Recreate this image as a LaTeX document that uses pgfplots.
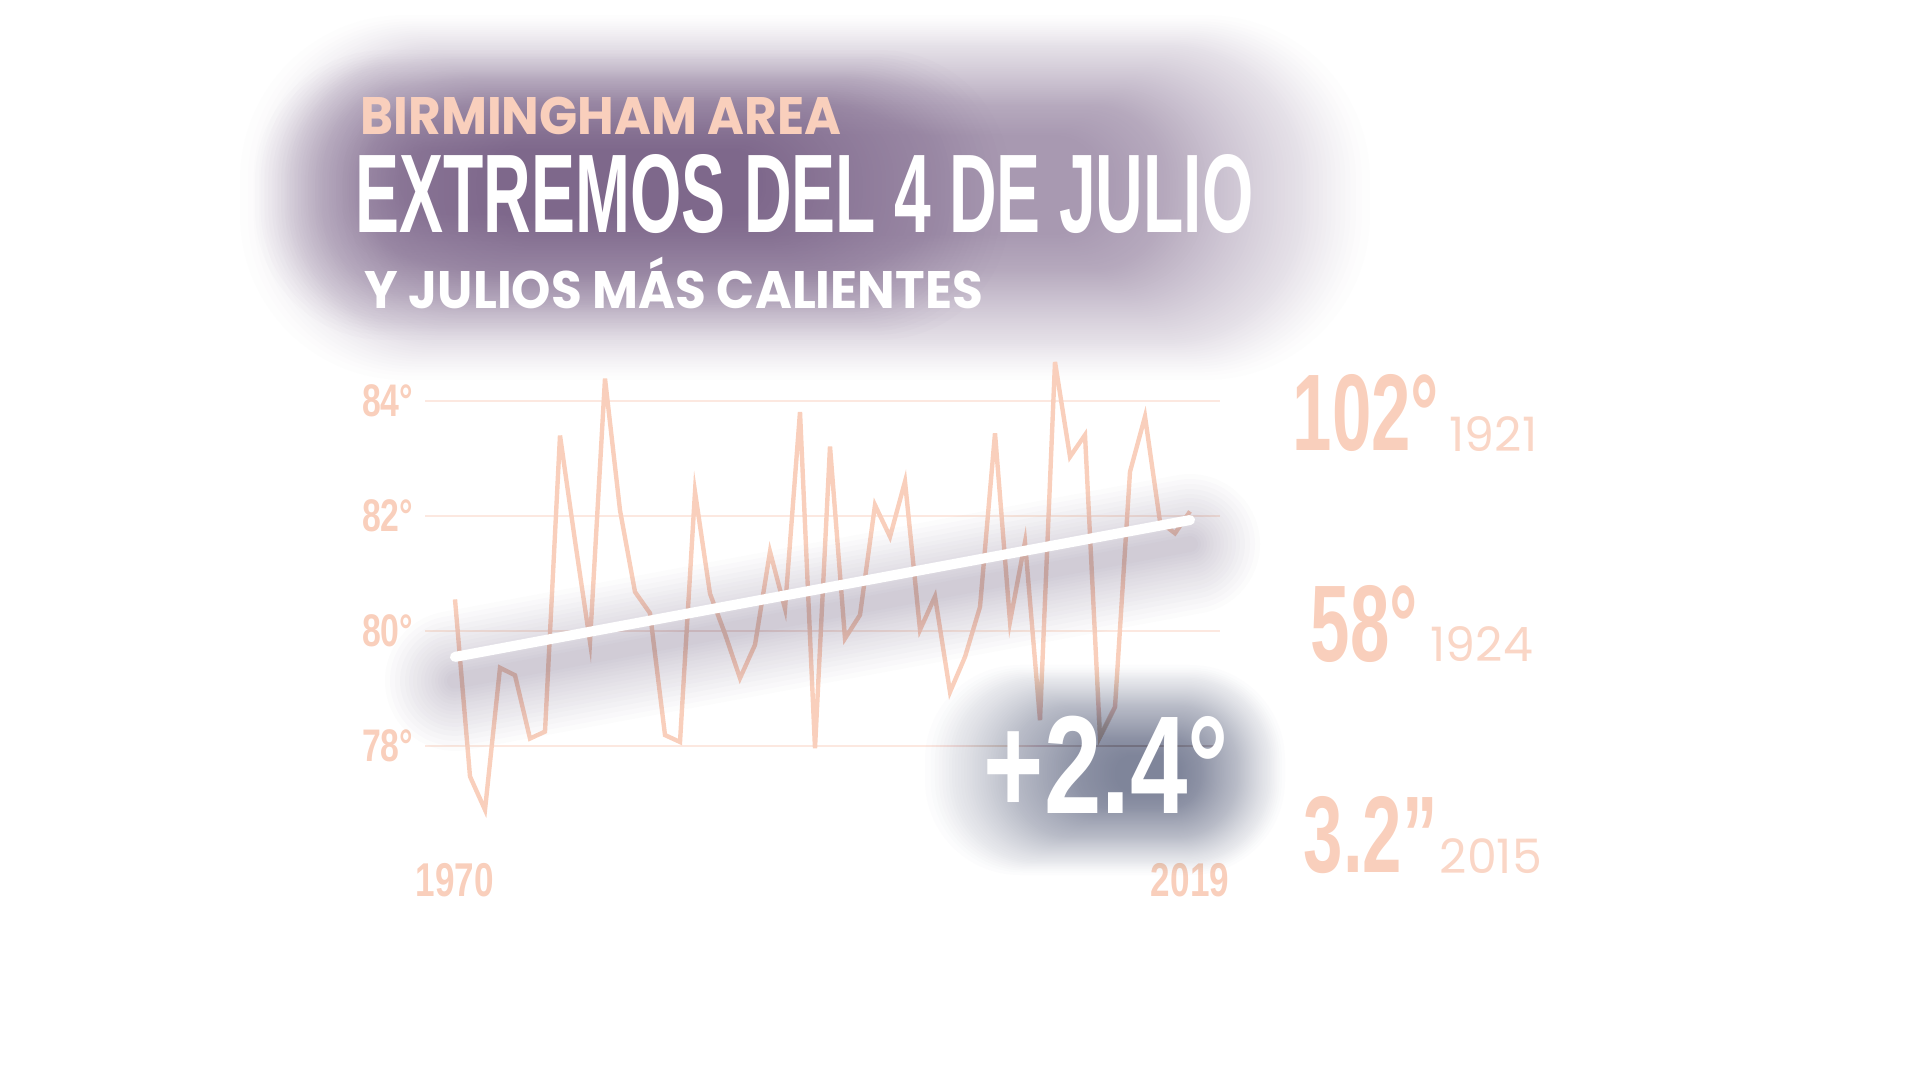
\documentclass[border=0pt]{standalone}
\usepackage{pgfplots}
\pgfplotsset{compat=1.18}
\usepackage{fontspec}
\setmainfont{Liberation Sans}
\newfontfamily\titlefont[FakeStretch=0.59]{Liberation Sans}
\newfontfamily\numfont[FakeStretch=0.74]{Liberation Sans}
\newfontfamily\bignum[FakeStretch=0.65]{Liberation Sans}
\newfontfamily\poppins[FakeStretch=0.95]{Poppins}
\newfontfamily\poppinsy{Poppins}
\definecolor{peach}{RGB}{249,207,188}
\definecolor{peachl}{RGB}{250,214,198}
\definecolor{gridc}{RGB}{252,232,224}
\definecolor{glowp}{RGB}{110,85,125}
\definecolor{glows}{RGB}{74,82,112}
\definecolor{shadowc}{RGB}{95,80,115}

\pgfplotstableread{
year temp
1970 80.55
1971 77.47
1972 76.89
1973 79.36
1974 79.23
1975 78.13
1976 78.25
1977 83.40
1978 81.57
1979 79.81
1980 84.39
1981 82.10
1982 80.68
1983 80.31
1984 78.19
1985 78.07
1986 82.42
1987 80.65
1988 79.95
1989 79.18
1990 79.76
1991 81.38
1992 80.39
1993 83.81
1994 77.96
1995 83.21
1996 79.87
1997 80.28
1998 82.19
1999 81.64
2000 82.60
2001 80.02
2002 80.60
2003 78.94
2004 79.55
2005 80.42
2006 83.44
2007 80.16
2008 81.55
2009 78.45
2010 84.68
2011 83.03
2012 83.41
2013 78.16
2014 78.68
2015 82.77
2016 83.73
2017 81.90
2018 81.70
2019 82.08
}\temps

% layered glow: outer x1 y1 x2 y2, inner X1 Y1 X2 Y2, color
\newcommand\glowbox[9]{%
 \foreach \k in {0,...,\glowN}{%
  \pgfmathsetmacro\t{(\k/\glowN)^0.8}%
  \pgfmathsetmacro\ax{#1+(#5-#1)*\t}%
  \pgfmathsetmacro\ay{#2+(#6-#2)*\t}%
  \pgfmathsetmacro\bx{#3+(#7-#3)*\t}%
  \pgfmathsetmacro\by{#4+(#8-#4)*\t}%
  \pgfmathsetmacro\rr{min(\bx-\ax,\by-\ay)*0.045}%
  \fill[#9, opacity=\glowop, rounded corners=\rr mm] (\ax,\ay) rectangle (\bx,\by);
 }}

\begin{document}
\begin{tikzpicture}
\path[use as bounding box] (0,0) rectangle (192mm,108mm);

% title glow
\begin{scope}[x=0.1mm,y=-0.1mm,shift={(0mm,108mm)}]
\def\glowN{80}\def\glowop{0.01}
\glowbox{240}{15}{1370}{380}{500}{135}{1100}{235}{glowp}
\def\glowN{60}\def\glowop{0.018}
\glowbox{255}{50}{1010}{340}{400}{150}{760}{215}{glowp}
\end{scope}

\begin{axis}[at={(42.5mm,21.9mm)}, anchor=south west, scale only axis,
  width=79.5mm, height=54.625mm,
  xmin=1968, xmax=2021, ymin=76, ymax=85.5, clip=false,
  axis line style={draw=none}, tick style={draw=none}, major tick length=0pt,
  ymajorgrids, grid style={gridc, line width=0.6pt},
  ytick={78,80,82,84}, yticklabels={78°,80°,82°,84°},
  xtick={1970,2019}, xticklabels={1970,2019},
  yticklabel style={anchor=east, inner sep=0pt, xshift=-1.1mm,
    font=\numfont\bfseries\fontsize{13}{13}\selectfont, text=peach},
  xticklabel style={anchor=north, inner sep=0pt, yshift=-0.2mm,
    font=\numfont\bfseries\fontsize{13.5}{13.5}\selectfont, text=peach},
]
\addplot[peach, line width=1.25pt, mark=none] table[x=year,y=temp] {\temps};
\pgfplotsinvokeforeach{14,13,12,11,10,9.2,8.4,7.6,6.8,6.1,5.4,4.7,4,3.4,2.8,2.2,1.6}{
  \addplot[shadowc, opacity=0.021, line width=#1mm, line cap=round, yshift=-2.4mm, mark=none]
    coordinates {(1970,79.55) (2019,81.93)};
}
\addplot[white, line width=2.85pt, line cap=round, mark=none]
  coordinates {(1970,79.55) (2019,81.93)};
\end{axis}

\begin{scope}[x=0.1mm,y=-0.1mm,shift={(0mm,108mm)}]
\def\glowN{80}\def\glowop{0.016}
\glowbox{925}{665}{1285}{875}{1115}{755}{1180}{792}{glows}
\node[anchor=base west, inner sep=0pt, text=white,
  font=\numfont\bfseries\fontsize{39.7}{40}\selectfont] at (983,813) {+2.4°};

\node[anchor=base west, inner sep=0pt, text=peach,
  font=\poppins\bfseries\fontsize{15}{15}\selectfont] at (360,135) {BIRMINGHAM AREA};
\node[anchor=base west, inner sep=0pt, text=white,
  font=\titlefont\bfseries\fontsize{31.8}{32}\selectfont] at (355,233) {EXTREMOS DEL 4 DE JULIO};
\node[anchor=base west, inner sep=0pt, text=white,
  font=\poppins\bfseries\fontsize{15}{15}\selectfont] at (364,309) {Y JULIOS MÁS CALIENTES};

\node[anchor=base west, inner sep=0pt, text=peach,
  font=\bignum\bfseries\fontsize{31}{31}\selectfont] at (1292,451) {102°};
\node[anchor=base west, inner sep=0pt, text=peachl,
  font=\poppinsy\fontsize{13.5}{13.5}\selectfont] at (1449,452) {1921};
\node[anchor=base west, inner sep=0pt, text=peach,
  font=\bignum\bfseries\fontsize{31}{31}\selectfont] at (1310,662) {58°};
\node[anchor=base west, inner sep=0pt, text=peachl,
  font=\poppinsy\fontsize{13.5}{13.5}\selectfont] at (1430,662) {1924};
\node[anchor=base west, inner sep=0pt, text=peach,
  font=\bignum\bfseries\fontsize{31}{31}\selectfont] at (1303,872) {3.2”};
\node[anchor=base west, inner sep=0pt, text=peachl,
  font=\poppinsy\fontsize{13.5}{13.5}\selectfont] at (1439,873) {2015};
\end{scope}
\end{tikzpicture}
\end{document}
